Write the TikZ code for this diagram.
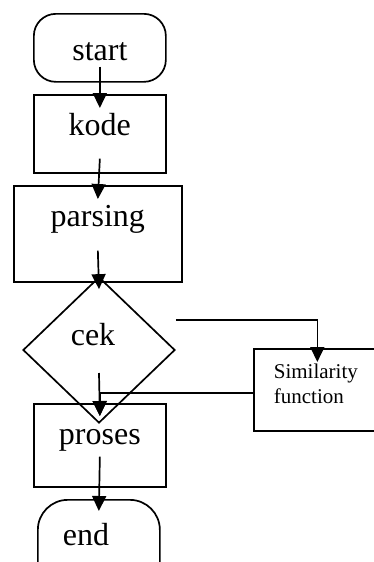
\documentclass[tikz,border=0pt]{standalone}
\usepackage{fontspec}
\setmainfont{Liberation Serif}
\usetikzlibrary{shapes.geometric, arrows.meta}

\begin{document}
\begin{tikzpicture}[
        x=1pt, y=-1pt,
        every node/.style={draw, line width=1.7pt, inner sep=0pt, anchor=north west,
            font=\fontsize{32}{38}\selectfont},
        procbox/.style={rectangle, minimum width=#1},
        terminal/.style={rectangle, rounded corners=#1},
        decision/.style={diamond, anchor=center, minimum width=152pt, minimum height=146pt},
        flowline/.style={line width=1.7pt, -{Triangle[length=15pt, width=14pt]}}
    ]
    \clip (0,0) rectangle (374,562);
    \node[terminal=22pt, minimum width=132pt, text height=47pt, text depth=21pt] (start) at (33,13) {start};
    \node[procbox=132pt, text height=41pt, text depth=37pt] (kode) at (33,94) {kode};
    \node[procbox=168pt, text height=41pt, text depth=55pt] (parsing) at (13,185) {parsing};
    \node[decision, text height=10pt, text depth=20pt] (cek) at (99,350) {\hspace*{-12pt}cek};
    \node[procbox=137pt, align=left, text width=97pt, inner xsep=20pt,
        text height=30pt, text depth=52pt, font=\fontsize{21}{25}\selectfont] (simil) at (253,348)
        {Similarity\\function};
    \node[procbox=132pt, text height=41pt, text depth=42pt] (proses) at (33,403) {proses};
    \node[terminal=30pt, align=left, text width=72pt, inner xsep=25pt,
        text height=46pt, text depth=50pt] (finish) at (37,499) {end};

    \draw[flowline] ([yshift=16pt]start.south) -- ([yshift=-14pt]kode.north);
    \draw[flowline] ([yshift=15pt]kode.south) -- ([yshift=-14pt]parsing.north);
    \draw[flowline] ([yshift=32pt]parsing.south) -- ([yshift=-13pt]cek.north);
    \draw[flowline] ([yshift=30pt]cek.east) -| ([xshift=-5pt, yshift=-14pt]simil.north);
    \draw[flowline] ([yshift=-23pt]cek.center) -- ([yshift=-13pt]proses.north);
    \draw[flowline] ([yshift=-3pt]simil.west) -| ([yshift=-13pt]proses.north);
    \draw[flowline] ([yshift=31pt]proses.south) -- ([yshift=-12pt]finish.north);
\end{tikzpicture}
\end{document}
